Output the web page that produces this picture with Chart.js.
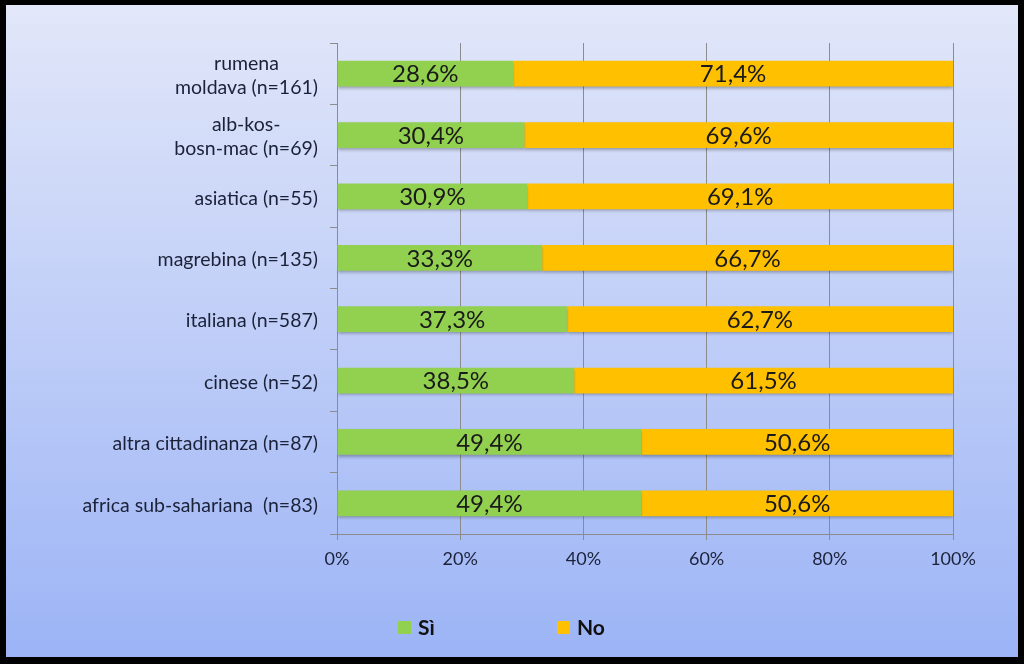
<!DOCTYPE html>
<html lang="it">
<head>
    <meta charset="UTF-8">
    <title>Sì / No per cittadinanza</title>
    <script src="https://cdn.jsdelivr.net/npm/chart.js"></script>
    <style>
        html, body { margin: 0; padding: 0; background: #000; }
        canvas { display: block; }
    </style>
</head>
<body>
    <canvas id="siNoChart" width="1024" height="664"></canvas>

    <script>
        // Data
        const categories = [
            ['rumena', 'moldava (n=161)'],
            ['alb-kos-', 'bosn-mac (n=69)'],
            'asiatica (n=55)',
            'magrebina (n=135)',
            'italiana (n=587)',
            'cinese (n=52)',
            'altra cittadinanza (n=87)',
            'africa sub-sahariana  (n=83)'
        ];
        const siValues = [28.6, 30.4, 30.9, 33.3, 37.3, 38.5, 49.4, 49.4];
        const noValues = [71.4, 69.6, 69.1, 66.7, 62.7, 61.5, 50.6, 50.6];
        const xTicks = [0, 20, 40, 60, 80, 100];

        const FONT = 'Lato, "Open Sans", sans-serif';
        const TEXT = '#1b2138';

        // background panel with black frame
        const panelPlugin = {
            id: 'panel',
            beforeDraw(chart) {
                const ctx = chart.ctx;
                ctx.save();
                ctx.fillStyle = '#000';
                ctx.fillRect(0, 0, chart.width, chart.height);
                const grad = ctx.createLinearGradient(0, 5, 0, 657);
                grad.addColorStop(0, '#e2e7f9');
                grad.addColorStop(1, '#9cb4f6');
                ctx.fillStyle = grad;
                ctx.fillRect(6, 5, 1012, 652);
                ctx.restore();
            }
        };

        // soft shadow under the bars
        const shadowPlugin = {
            id: 'barShadow',
            beforeDatasetsDraw(chart) {
                const ctx = chart.ctx;
                ctx.save();
                ctx.shadowColor = 'rgba(0, 0, 0, 0.3)';
                ctx.shadowBlur = 3;
                ctx.shadowOffsetY = 2;
            },
            afterDatasetsDraw(chart) {
                chart.ctx.restore();
            }
        };

        // percent labels inside bars, category labels, legend
        const labelsPlugin = {
            id: 'labels',
            afterDraw(chart) {
                const ctx = chart.ctx;
                ctx.save();

                // values in the segments
                ctx.font = '24px ' + FONT;
                ctx.fillStyle = '#1a1a1a';
                ctx.textAlign = 'center';
                ctx.textBaseline = 'middle';
                chart.data.datasets.forEach((ds, di) => {
                    chart.getDatasetMeta(di).data.forEach((bar, i) => {
                        const p = bar.getProps(['x', 'y', 'base'], true);
                        const cx = (p.x + p.base) / 2;
                        ctx.fillText(ds.data[i].toFixed(1).replace('.', ',') + '%', cx, p.y + 1);
                    });
                });

                // category labels (lines centred in a right-aligned block)
                const yScale = chart.scales.y;
                ctx.font = '19.5px ' + FONT;
                ctx.fillStyle = TEXT;
                const right = 318;
                const lineH = 24;
                categories.forEach((lab, i) => {
                    const lines = Array.isArray(lab) ? lab : [lab];
                    const w = Math.max(...lines.map(l => ctx.measureText(l).width));
                    const cy = yScale.getPixelForTick(i) + 2;
                    lines.forEach((l, k) => {
                        const y = cy + (k - (lines.length - 1) / 2) * lineH;
                        ctx.fillText(l, right - w / 2, y);
                    });
                });

                // legend
                const legendX = [398, 557];
                ctx.font = 'bold 21px ' + FONT;
                ctx.textAlign = 'left';
                chart.data.datasets.forEach((ds, di) => {
                    const x = legendX[di];
                    ctx.fillStyle = ds.backgroundColor;
                    ctx.fillRect(x, 621, 13, 13);
                    ctx.fillStyle = '#111';
                    ctx.fillText(ds.label, x + 20, 628);
                });

                ctx.restore();
            }
        };

        const ctx = document.getElementById('siNoChart').getContext('2d');
        new Chart(ctx, {
            type: 'bar',
            data: {
                labels: categories,
                datasets: [
                    {
                        label: 'Sì',
                        data: siValues,
                        backgroundColor: '#92d050',
                        barPercentage: 0.42,
                        categoryPercentage: 1
                    },
                    {
                        label: 'No',
                        data: noValues,
                        backgroundColor: '#ffc000',
                        barPercentage: 0.42,
                        categoryPercentage: 1
                    }
                ]
            },
            options: {
                indexAxis: 'y',
                responsive: false,
                animation: false,
                layout: {
                    padding: { left: 0, right: 71, top: 43, bottom: 80 }
                },
                plugins: {
                    legend: { display: false },
                    tooltip: { enabled: false }
                },
                scales: {
                    x: {
                        stacked: true,
                        min: 0,
                        max: 100,
                        afterBuildTicks(scale) {
                            scale.ticks = xTicks.map(v => ({ value: v }));
                        },
                        afterFit(scale) { scale.height = 50; },
                        grid: {
                            color: '#8c8c8c',
                            tickLength: 6,
                            drawTicks: true
                        },
                        border: { color: '#8c8c8c' },
                        ticks: {
                            padding: 8,
                            color: TEXT,
                            font: { family: FONT, size: 18 },
                            callback: v => v + '%'
                        }
                    },
                    y: {
                        stacked: true,
                        afterFit(scale) { scale.width = 337; },
                        grid: {
                            drawOnChartArea: false,
                            drawTicks: true,
                            tickLength: 7,
                            color: '#8c8c8c'
                        },
                        border: { color: '#8c8c8c' },
                        ticks: { display: false }
                    }
                }
            },
            plugins: [panelPlugin, shadowPlugin, labelsPlugin]
        });
    </script>
</body>
</html>
